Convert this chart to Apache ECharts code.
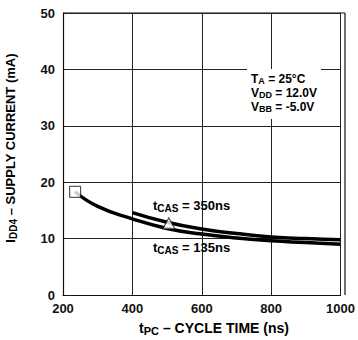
<!DOCTYPE html>
<html>
  <head>
    <meta charset="utf-8">
    <style>
      body { margin: 0; background: #fff; }
      #chart { width: 358px; height: 340px; }
    </style>
  </head>
  <body>
    <div id="chart"></div>
  </body>
  <script src="https://cdn.jsdelivr.net/npm/echarts@6/dist/echarts.min.js"></script>
  <script>

// curve
var cas135_x = [235, 300, 400, 500, 600, 700, 800, 900, 1000];
var cas135_y = [18.3, 15.7, 13.5, 11.8, 10.8, 10.1, 9.6, 9.3, 9.0];
var cas350_x = [400, 500, 600, 700, 800, 900, 1000];
var cas350_y = [14.6, 12.9, 11.7, 10.9, 10.3, 10.0, 9.8];
// markers
var square_pt = [235, 18.3];
var triangle_pt = [505, 12.7];
// test conditions
var conditions = [['T', 'A', ' = 25°C'], ['V', 'DD', ' = 12.0V'], ['V', 'BB', ' = -5.0V']];

function pairs(xs, ys) {
  var out = [];
  for (var i = 0; i < xs.length; i++) out.push([xs[i], ys[i]]);
  return out;
}

var font = 'Liberation Sans, Arial, sans-serif';
function richSet(main, sub, drop, lh) {
  return {
    m: { fontSize: main, fontWeight: 'bold', fontFamily: font, color: '#111', lineHeight: lh },
    s: { fontSize: sub, fontWeight: 'bold', fontFamily: font, color: '#111', padding: [drop, 0, 0, 0], lineHeight: lh - drop }
  };
}
var rich13 = richSet(13, 10, 6, 16);
var rich14 = richSet(14, 11, 6, 17);
var rich12 = richSet(12, 9, 3, 14);

var condText = conditions.map(function (c) {
  return '{m|' + c[0] + '}{s|' + c[1] + '}{m|' + c[2] + '}';
}).join('\n');

var chart = echarts.init(document.getElementById('chart'), null, { renderer: 'svg' });

var option = {
  animation: false,
  backgroundColor: '#fff',
  grid: { left: 63, right: 13, top: 13, bottom: 45, show: false },
  xAxis: {
    type: 'value',
    min: 200, max: 1000, interval: 200,
    axisLine: { lineStyle: { color: '#111', width: 1.2 } },
    axisTick: { show: false },
    axisLabel: {
      fontSize: 13, fontWeight: 'bold', fontFamily: font, color: '#111', margin: 7,
      formatter: function (v) { return String(v); }
    },
    splitLine: { show: true, lineStyle: { color: '#222', width: 1 } }
  },
  yAxis: {
    type: 'value',
    min: 0, max: 50, interval: 10,
    axisLine: { show: true, lineStyle: { color: '#111', width: 1.2 } },
    axisTick: { show: false },
    axisLabel: { fontSize: 13, fontWeight: 'bold', fontFamily: font, color: '#111', margin: 8 },
    splitLine: { show: true, lineStyle: { color: '#222', width: 1 } }
  },
  series: [
    {
      name: 'tCAS = 135ns',
      type: 'line',
      smooth: true,
      showSymbol: false,
      lineStyle: { color: '#000', width: 3.5 },
      data: pairs(cas135_x, cas135_y),
      z: 3
    },
    {
      name: 'tCAS = 350ns',
      type: 'line',
      smooth: true,
      showSymbol: false,
      lineStyle: { color: '#000', width: 3.5 },
      data: pairs(cas350_x, cas350_y),
      z: 3
    },
    {
      type: 'scatter',
      symbol: 'rect',
      symbolSize: 11,
      itemStyle: { color: '#fff', borderColor: '#000', borderWidth: 1 },
      data: [square_pt],
      z: 5
    },
    {
      type: 'scatter',
      symbol: 'triangle',
      symbolSize: [12, 11],
      itemStyle: { color: '#fff', borderColor: '#000', borderWidth: 1 },
      data: [triangle_pt],
      z: 5
    }
  ],
  graphic: [
    // top and right border of the plot
    { type: 'line', shape: { x1: 345, y1: 13, x2: 345, y2: 295 }, style: { stroke: '#111', lineWidth: 1.2 } },
    { type: 'line', shape: { x1: 63, y1: 13, x2: 345, y2: 13 }, style: { stroke: '#111', lineWidth: 1.2 } },
    // axis titles
    {
      type: 'text', x: 10, y: 148, rotation: Math.PI / 2,
      style: { text: '{m|I}{s|DD4}{m| – SUPPLY CURRENT (mA)}', rich: rich13, align: 'center', verticalAlign: 'middle' }
    },
    {
      type: 'text', x: 214, y: 328,
      style: { text: '{m|t}{s|PC}{m| – CYCLE TIME (ns)}', rich: rich14, align: 'center', verticalAlign: 'middle' }
    },
    // curve labels
    { type: 'text', left: 153, top: 197, z: 20, style: { text: '{m|t}{s|CAS}{m| = 350ns}', rich: rich13 } },
    { type: 'text', left: 153, top: 239, z: 20, style: { text: '{m|t}{s|CAS}{m| = 135ns}', rich: rich13 } },
    // conditions box
    { type: 'rect', z: 10, shape: { x: 247, y: 69, width: 74, height: 50 }, style: { fill: '#fff' } },
    { type: 'text', left: 251, top: 73, z: 20, style: { text: condText, rich: rich12 } }
  ]
};

chart.setOption(option);

  </script>
</html>
